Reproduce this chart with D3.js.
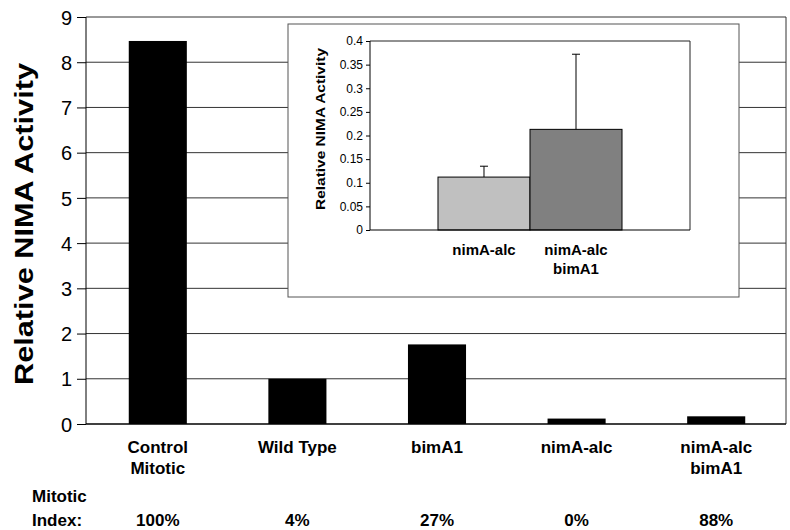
<!DOCTYPE html>
<html>
<head>
<meta charset="utf-8">
<script src="https://cdn.jsdelivr.net/npm/d3@7"></script>
<style>
  body { margin: 0; background: #fff; }
  svg { display: block; font-family: Arial, "Liberation Sans", sans-serif; }
</style>
</head>
<body>
<svg id="chart" width="790" height="530"></svg>
<script>
// main chart data
let categories = [['Control', 'Mitotic'], ['Wild Type'], ['bimA1'], ['nimA-alc'], ['nimA-alc', 'bimA1']];
let activity = [8.47, 1.0, 1.76, 0.12, 0.17];
let mitoticIndex = ['100%', '4%', '27%', '0%', '88%'];
let yTicks = [0, 1, 2, 3, 4, 5, 6, 7, 8, 9];

// inset data
let insetCats = [['nimA-alc'], ['nimA-alc', 'bimA1']];
let insetActivity = [0.112, 0.213];
let insetErr = [0.023, 0.159];
let insetColors = ['#c0c0c0', '#808080'];
let insetTicks = [0, 0.05, 0.1, 0.15, 0.2, 0.25, 0.3, 0.35, 0.4];

let svg = d3.select('#chart');

let pl = 86, pr = 786, pt = 17, pb = 424;

let x = d3.scaleBand().domain(d3.range(categories.length)).range([88, pr]).padding(0.584).paddingOuter(0.292);
let y = d3.scaleLinear().domain([0, 9]).range([pb, pt]);

// gridlines
svg.append('g').selectAll('line')
    .data(yTicks.slice(1))
    .enter()
    .append('line')
    .attr('x1', pl).attr('x2', pr)
    .attr('y1', d => y(d)).attr('y2', d => y(d))
    .attr('stroke', '#333').attr('stroke-width', 1);

// right border
svg.append('line')
    .attr('x1', pr).attr('x2', pr)
    .attr('y1', pt).attr('y2', pb)
    .attr('stroke', '#333');

// bars
svg.append('g').selectAll('rect')
    .data(activity)
    .enter()
    .append('rect')
    .attr('x', (d, i) => x(i))
    .attr('y', d => y(d))
    .attr('width', x.bandwidth())
    .attr('height', d => pb - y(d))
    .attr('fill', '#000');

// y axis
let yAxis = d3.axisLeft(y).tickValues(yTicks).tickSize(9).tickPadding(5).tickFormat(d3.format('d'));
let yg = svg.append('g').attr('transform', 'translate(' + pl + ',0)').call(yAxis);
yg.select('.domain').attr('stroke', '#000').attr('d', 'M0,' + pt + 'V' + pb);
yg.selectAll('.tick line').attr('stroke', '#000');
yg.selectAll('.tick text').attr('font-size', 20).attr('font-family', 'Arial, "Liberation Sans", sans-serif').attr('fill', '#000').attr('dy', '0.36em');

// x axis line
svg.append('line')
    .attr('x1', pl).attr('x2', pr)
    .attr('y1', pb).attr('y2', pb)
    .attr('stroke', '#000').attr('stroke-width', 1.5);

// category labels
let xl = svg.append('g').selectAll('text')
    .data(categories)
    .enter()
    .append('text')
    .attr('x', (d, i) => x(i) + x.bandwidth() / 2)
    .attr('y', 453)
    .attr('text-anchor', 'middle')
    .attr('font-size', 17)
    .attr('font-weight', 'bold');
xl.selectAll('tspan')
    .data(d => d)
    .enter()
    .append('tspan')
    .attr('x', function () { return d3.select(this.parentNode).attr('x'); })
    .attr('dy', (d, i) => i === 0 ? 0 : 21)
    .text(d => d);

// mitotic index row
svg.append('text').attr('x', 32).attr('y', 502).attr('font-size', 17).attr('font-weight', 'bold').text('Mitotic');
svg.append('text').attr('x', 32).attr('y', 526).attr('font-size', 17).attr('font-weight', 'bold').text('Index:');
svg.append('g').selectAll('text')
    .data(mitoticIndex)
    .enter()
    .append('text')
    .attr('x', (d, i) => x(i) + x.bandwidth() / 2)
    .attr('y', 526)
    .attr('text-anchor', 'middle')
    .attr('font-size', 17)
    .attr('font-weight', 'bold')
    .text(d => d);

// y title
svg.append('text')
    .attr('transform', 'translate(33,224) rotate(-90)')
    .attr('text-anchor', 'middle')
    .attr('font-size', 25)
    .attr('font-weight', 'bold')
    .attr('textLength', 322)
    .attr('lengthAdjust', 'spacingAndGlyphs')
    .text('Relative NIMA Activity');

// ---- inset ----
svg.append('rect')
    .attr('x', 288).attr('y', 24)
    .attr('width', 739 - 288).attr('height', 297 - 24)
    .attr('fill', '#fff').attr('stroke', '#555').attr('stroke-width', 1);

let il = 370, ir = 690, it = 41, ib = 230;
let ix = d3.scaleBand().domain(d3.range(insetCats.length)).range([il, ir]).paddingInner(0).paddingOuter(0.739);
let iy = d3.scaleLinear().domain([0, 0.4]).range([ib, it]);

// plot frame top/right
svg.append('path')
    .attr('d', 'M' + il + ',' + it + 'H' + ir + 'V' + ib)
    .attr('fill', 'none').attr('stroke', '#222');

// error bars (upper only)
let eg = svg.append('g');
insetActivity.forEach((v, i) => {
    let cx = ix(i) + ix.bandwidth() / 2;
    eg.append('line').attr('x1', cx).attr('x2', cx).attr('y1', iy(v)).attr('y2', iy(v + insetErr[i])).attr('stroke', '#000');
    eg.append('line').attr('x1', cx - 4).attr('x2', cx + 4).attr('y1', iy(v + insetErr[i])).attr('y2', iy(v + insetErr[i])).attr('stroke', '#000');
});

svg.append('g').selectAll('rect')
    .data(insetActivity)
    .enter()
    .append('rect')
    .attr('x', (d, i) => ix(i))
    .attr('y', d => iy(d))
    .attr('width', ix.bandwidth())
    .attr('height', d => ib - iy(d))
    .attr('fill', (d, i) => insetColors[i])
    .attr('stroke', '#000').attr('stroke-width', 1);

let iyAxis = d3.axisLeft(iy).tickValues(insetTicks).tickSize(4).tickPadding(3).tickFormat(d => String(+d.toFixed(2)));
let iyg = svg.append('g').attr('transform', 'translate(' + il + ',0)').call(iyAxis);
iyg.select('.domain').attr('stroke', '#000').attr('d', 'M0,' + it + 'V' + ib);
iyg.selectAll('.tick line').attr('stroke', '#000');
iyg.selectAll('.tick text').attr('font-size', 12).attr('font-family', 'Arial, "Liberation Sans", sans-serif').attr('fill', '#000');

svg.append('line')
    .attr('x1', il).attr('x2', ir)
    .attr('y1', ib).attr('y2', ib)
    .attr('stroke', '#000').attr('stroke-width', 1.2);

let ixl = svg.append('g').selectAll('text')
    .data(insetCats)
    .enter()
    .append('text')
    .attr('x', (d, i) => ix(i) + ix.bandwidth() / 2)
    .attr('y', 255)
    .attr('text-anchor', 'middle')
    .attr('font-size', 15)
    .attr('font-weight', 'bold');
ixl.selectAll('tspan')
    .data(d => d)
    .enter()
    .append('tspan')
    .attr('x', function () { return d3.select(this.parentNode).attr('x'); })
    .attr('dy', (d, i) => i === 0 ? 0 : 19)
    .text(d => d);

svg.append('text')
    .attr('transform', 'translate(325,129) rotate(-90)')
    .attr('text-anchor', 'middle')
    .attr('font-size', 13)
    .attr('font-weight', 'bold')
    .attr('textLength', 162)
    .attr('lengthAdjust', 'spacingAndGlyphs')
    .text('Relative NIMA Activity');
</script>
</body>
</html>
